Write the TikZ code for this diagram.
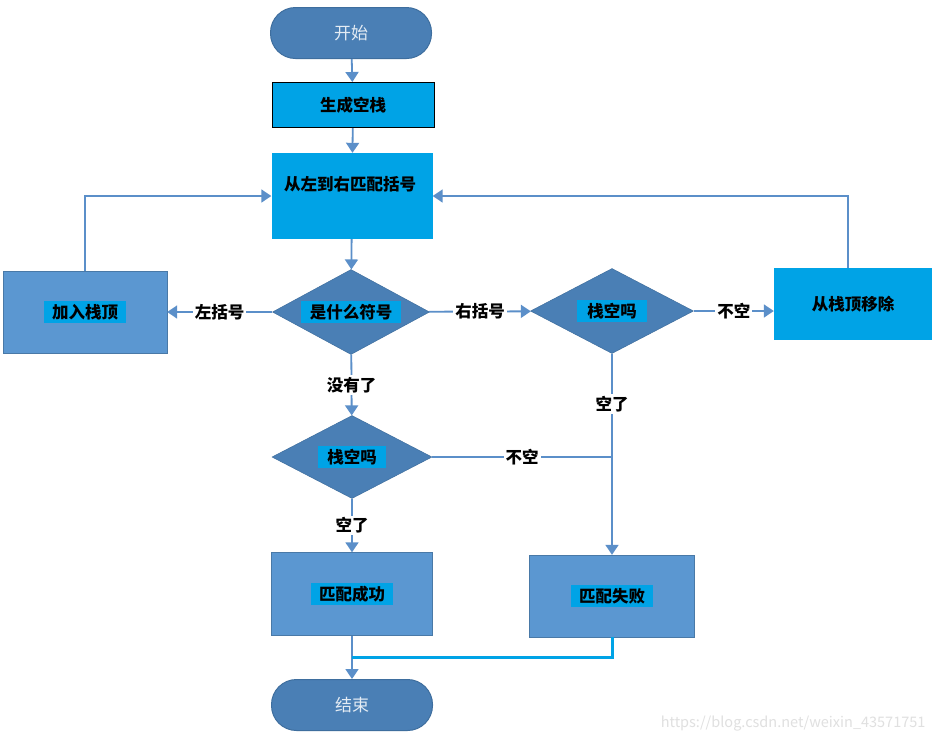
\documentclass[tikz,border=0pt]{standalone}
\usepackage{fontspec}
\setmainfont{Noto Sans CJK SC}
\usetikzlibrary{shapes.geometric,arrows.meta,calc}

\definecolor{steel}{HTML}{4A7FB5}
\definecolor{steeldark}{HTML}{3E6E9E}
\definecolor{boxblue}{HTML}{5B97D1}
\definecolor{cyanbox}{HTML}{00A3E6}
\definecolor{flow}{HTML}{5B8FC9}

\begin{document}
\begin{tikzpicture}[x=1pt,y=-1pt,
  every node/.style={font=\fontsize{16.5}{19}\selectfont\bfseries},
  terminal/.style={rectangle,rounded corners=25pt,fill=steel,draw=steeldark,line width=1pt,
    minimum width=161pt,minimum height=51pt,text=white!85!steel,font=\fontsize{17}{20}\selectfont},
  cyanbox/.style={rectangle,fill=cyanbox,minimum width=161pt},
  bluebox/.style={rectangle,fill=boxblue,draw=boxblue!80!black,line width=.4pt},
  decision/.style={diamond,fill=steel,draw=steeldark,line width=.5pt,inner sep=0pt},
  tag/.style={fill=cyanbox,inner sep=3pt,minimum width=82pt},
  edgelabel/.style={fill=white,inner sep=2pt},
  flowline/.style={draw=flow,line width=1.8pt},
  arrow/.style={flowline,-{Triangle[width=13pt,length=10pt]}}]
  \useasboundingbox[fill=white] (0,0) rectangle (935,740);
  % top part
  \node[terminal] (start) at (351,33) {开始};
  \node[cyanbox,draw=black,line width=1pt,minimum width=162pt,minimum height=45pt] (init) at (353,105) {生成空栈};
  \node[cyanbox,minimum height=86pt] (scan) at (352,196) {};
  \node (scantext) at (350,184) {从左到右匹配括号};
  \node[decision,minimum width=157pt,minimum height=85pt] (what) at (351,312) {};
  \node[tag,minimum width=100pt] at (what) {是什么符号};
  % left branch
  \node[bluebox,minimum width=164pt,minimum height=82pt] (push) at (85,312) {};
  \node[tag] at (push) {加入栈顶};
  % right branch
  \node[decision,minimum width=163pt,minimum height=85pt] (empty1) at (612,311) {};
  \node[tag,minimum width=70pt] at (empty1) {栈空吗};
  \node[cyanbox,minimum width=158pt,minimum height=72pt] (pop) at (853,304) {从栈顶移除};
  % end check
  \node[decision,minimum width=160pt,minimum height=83pt] (empty2) at (352,457) {};
  \node[tag,minimum width=68pt] at (empty2) {栈空吗};
  \node[bluebox,minimum width=161pt,minimum height=83pt] (ok) at (352,594) {};
  \node[tag] at (ok) {匹配成功};
  \node[bluebox,minimum width=165pt,minimum height=82pt] (fail) at (612,596) {};
  \node[tag] at (fail) {匹配失败};
  \node[terminal] (stop) at (352,705) {结束};
  \coordinate (join) at ($(ok.south)!.5!(stop.north)$);

  % connectors
  \draw[arrow] (start) -- (init);
  \draw[arrow] (init) -- (scan);
  \draw[arrow] (scan) -- (what);
  \draw[arrow] (what) -- node[edgelabel] {左括号} (push);
  \draw[arrow] (push.north) |- (scan.west);
  \draw[arrow] (what) -- node[edgelabel] {右括号} (empty1);
  \draw[arrow] (empty1.east) -- node[edgelabel] {不空} (empty1.east -| pop.west);
  \draw[arrow] ([xshift=-5pt]pop.north) |- (scan.east);
  \draw[arrow] (empty1) -- node[edgelabel,pos=.25] {空了} (fail);
  \draw[arrow] (what) -- node[edgelabel,pos=.5] {没有了} (empty2);
  \draw[flowline] (empty2.east) -- node[edgelabel,pos=.5] {不空} (empty2.east -| fail.north);
  \draw[arrow] (empty2) -- node[edgelabel] {空了} (ok);
  \draw[arrow] (ok) -- (stop);
  \draw[draw=cyanbox,line width=3pt] (fail.south) |- (join);

  \node[anchor=south east,text=black!12,font=\fontsize{14.5}{16}\selectfont] (mark) at (929,735) {https://blog.csdn.net/weixin\_43571751};
\end{tikzpicture}
\end{document}
